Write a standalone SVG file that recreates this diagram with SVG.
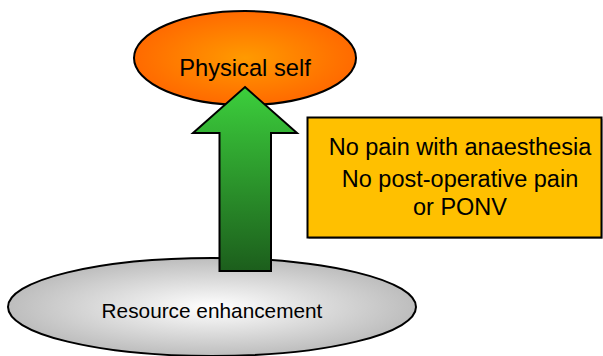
<svg xmlns="http://www.w3.org/2000/svg" width="603" height="356" viewBox="0 0 603 356">
  <defs>
    <radialGradient id="orangeFill" cx="50%" cy="50%" r="50%">
      <stop offset="0" stop-color="#ff9a00"/>
      <stop offset="1" stop-color="#ff6a00"/>
    </radialGradient>
    <radialGradient id="greyFill" cx="50%" cy="50%" r="50%">
      <stop offset="0" stop-color="#ffffff"/>
      <stop offset="1" stop-color="#bdbdbd"/>
    </radialGradient>
    <linearGradient id="greenFill" x1="0" y1="0" x2="0" y2="1">
      <stop offset="0" stop-color="#3ccf3c"/>
      <stop offset="1" stop-color="#1c5e1c"/>
    </linearGradient>
    <style>
      .outline { stroke: #000000; stroke-width: 2; }
      .label { font-family: "Liberation Sans", Arial, sans-serif; fill: #000000; text-anchor: middle; }
    </style>
  </defs>

  <!-- base ellipse -->
  <g id="resource-enhancement">
    <ellipse cx="212" cy="307" rx="204" ry="49" fill="url(#greyFill)" class="outline"/>
    <text class="label" x="212" y="318" font-size="20.8">Resource enhancement</text>
  </g>

  <!-- top ellipse -->
  <g id="physical-self">
    <ellipse cx="245" cy="58" rx="111" ry="47" fill="url(#orangeFill)" class="outline"/>
    <text class="label" x="245" y="76" font-size="23.7">Physical self</text>
  </g>

  <!-- upward arrow -->
  <g id="connectors">
    <path d="M245,87 L297,133 L271,133 L271,271 L219.5,271 L219.5,133 L193,133 Z" fill="url(#greenFill)" class="outline" stroke-linejoin="miter"/>
  </g>

  <!-- outcome box -->
  <g id="outcomes">
    <rect x="308.5" y="119" width="294" height="120" fill="#a0a0a0"/>
    <rect x="307.5" y="117.5" width="294" height="120" fill="#ffc000" class="outline"/>
    <text class="label" x="460" y="155" font-size="23.5">No pain with anaesthesia</text>
    <text class="label" x="460" y="187" font-size="23.5">No post-operative pain</text>
    <text class="label" x="460" y="215" font-size="23.5">or PONV</text>
  </g>
</svg>
